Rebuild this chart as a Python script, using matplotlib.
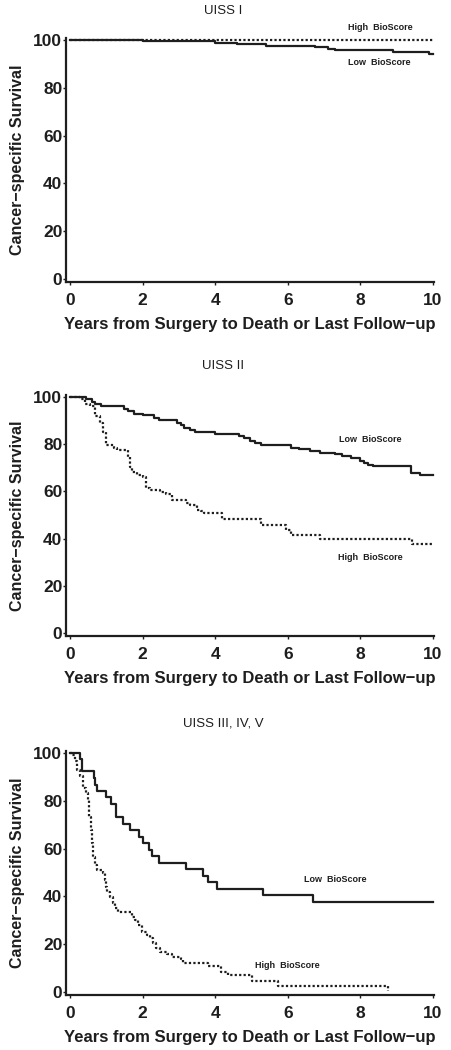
import matplotlib
matplotlib.use("Agg")
import matplotlib.pyplot as plt

plt.rcParams['font.family'] = ['Liberation Sans', 'DejaVu Sans']

titles = ["UISS I", "UISS II", "UISS III, IV, V"]
xlabel = "Years from Surgery to Death or Last Follow\u2212up"
ylabel = "Cancer\u2212specific Survival"
xticks = [0, 2, 4, 6, 8, 10]
yticks = [0, 20, 40, 60, 80, 100]

# Panel 1 (UISS I)
p1_low_t = [0, 2.02, 4.0, 4.6, 5.4, 6.75, 7.1, 7.3, 8.9, 9.9, 10.0]
p1_low_s = [100, 99.5, 98.9, 98.3, 97.6, 96.9, 96.4, 95.8, 95.1, 94.2, 94.2]
p1_high_t = [0, 10.0]
p1_high_s = [100, 100]

# Panel 2 (UISS II)
p2_low_t = [0, 0.45, 0.6, 0.7, 0.85, 1.5, 1.6, 1.75, 2.0, 2.3, 2.45, 2.95, 3.05,
            3.15, 3.3, 3.45, 4.0, 4.65, 4.8, 4.95, 5.1, 5.25, 6.1, 6.3, 6.6, 6.9,
            7.3, 7.5, 7.75, 8.0, 8.1, 8.2, 8.35, 9.4, 9.65, 10.0]
p2_low_s = [100, 99, 98, 97, 96, 95, 94, 93, 92.3, 91, 90.3, 89, 88,
            87, 86, 85.2, 84.5, 83.5, 82.5, 81.5, 80.5, 79.6, 78.6, 78, 77, 76.3,
            75.7, 75, 74, 73, 72, 71.2, 70.6, 68, 67, 67]
p2_high_t = [0, 0.28, 0.42, 0.55, 0.7, 0.82, 0.9, 1.0, 1.2, 1.3, 1.6, 1.65, 1.72,
             1.85, 2.0, 2.1, 2.2, 2.48, 2.65, 2.8, 3.2, 3.3, 3.5, 3.6, 3.68, 4.2,
             5.25, 5.95, 6.1, 6.9, 9.42, 10.0]
p2_high_s = [100, 99, 97, 96, 92, 89, 85, 79.5, 78.6, 77.5, 74.6, 70.4, 68.3,
             66.9, 66, 61.3, 60.5, 59.6, 58.9, 56.3, 55.2, 54.2, 52.1, 51.5, 50.7, 48.2,
             45.8, 43.7, 41.5, 40, 37.7, 37.7]

# Panel 3 (UISS III, IV, V)
p3_low_t = [0, 0.28, 0.33, 0.65, 0.69, 0.73, 1.0, 1.13, 1.28, 1.47, 1.66, 1.9,
            2.0, 2.17, 2.26, 2.45, 3.2, 3.66, 3.8, 4.04, 5.33, 6.7, 10.0]
p3_low_s = [100, 97.3, 92.3, 89.5, 86.7, 84.2, 81.5, 78.6, 73.1, 70.4, 67.6, 64.9,
            62.2, 59.5, 56.8, 54.1, 51.4, 48.6, 45.9, 43.2, 40.5, 37.6, 37.6]
p3_high_t = [0, 0.05, 0.14, 0.2, 0.28, 0.35, 0.45, 0.49, 0.53, 0.57, 0.6, 0.64,
             0.68, 0.73, 0.92, 0.97, 1.0, 1.03, 1.1, 1.18, 1.23, 1.33, 1.7, 1.79,
             1.88, 1.97, 2.11, 2.2, 2.29, 2.38, 2.48, 2.66, 2.8, 3.07, 3.12, 3.81,
             4.17, 4.36, 5.0, 5.73, 8.76]
p3_high_s = [100, 99, 96.5, 93, 90.2, 85.3, 83.2, 80.4, 73.4, 67.8, 62.2, 56.6,
             53.1, 51, 49.7, 46.9, 44, 42, 39.9, 37.1, 35, 33.6, 31.5, 30.1,
             28, 25.2, 23.8, 22.4, 20.3, 18.2, 16.8, 16.1, 14.7, 13.6, 12.2, 10.8,
             8.4, 7, 4.5, 2.4, 0.3]

panels = [
    (p1_low_t, p1_low_s, p1_high_t, p1_high_s),
    (p2_low_t, p2_low_s, p2_high_t, p2_high_s),
    (p3_low_t, p3_low_s, p3_high_t, p3_high_s),
]

# label positions (data coords) for "Low BioScore" / "High BioScore"
low_lab = [(8.52, 90.4), (8.26, 82), (7.3, 47)]
high_lab = [(8.55, 105.4), (8.28, 32), (5.98, 11)]

W, H = 451, 1050
frames = [(38.1, 282.1), (395.1, 636.1), (751.1, 995.1)]
left_px, right_px = 66.4, 433.7
title_y = [11, 366, 723]

fig = plt.figure(figsize=(W / 100, H / 100), dpi=100)
col = '#1e1e1e'

for i, (lt, ls, ht, hs) in enumerate(panels):
    top, bot = frames[i]
    axw = right_px - left_px
    ax = fig.add_axes([left_px / W, 1 - bot / H, axw / W, (bot - top) / H])
    ax.step(ht, hs, where='post', color=col, lw=1.6, linestyle=(0, (1.0, 1.0)), clip_on=False)
    ax.step(lt, ls, where='post', color=col, lw=1.6, clip_on=False)
    ax.set_xlim(-0.1, 10.02)
    ax.set_ylim(-1.3, 100.8)
    ax.set_xticks(xticks)
    ax.set_yticks(yticks)
    for s in ['top', 'right']:
        ax.spines[s].set_visible(False)
    for s in ['left', 'bottom']:
        ax.spines[s].set_linewidth(1.6)
        ax.spines[s].set_color(col)
    ax.tick_params(axis='both', length=2, width=1.0, color=col, labelsize=12.5,
                   labelcolor=col)
    ax.tick_params(axis='y', pad=0.9)
    ax.tick_params(axis='x', pad=5.5)
    for lab in ax.get_xticklabels() + ax.get_yticklabels():
        lab.set_fontweight('bold')
    ax.set_xlabel(xlabel, fontsize=12, fontweight='bold', color=col, labelpad=7)
    ax.set_ylabel(ylabel, fontsize=11.5, fontweight='bold', color=col)
    ax.yaxis.set_label_coords((25 - left_px) / axw, 0.5)
    ax.text(low_lab[i][0], low_lab[i][1], "Low  BioScore", fontsize=6.5, fontweight='bold',
            color=col, ha='center', va='center', clip_on=False)
    ax.text(high_lab[i][0], high_lab[i][1], "High  BioScore", fontsize=6.5, fontweight='bold',
            color=col, ha='center', va='center', clip_on=False)
    fig.text(223 / W, 1 - title_y[i] / H, titles[i], fontsize=9.5, color=col,
             ha='center', va='center')

fig.savefig("out.png", dpi=100)
